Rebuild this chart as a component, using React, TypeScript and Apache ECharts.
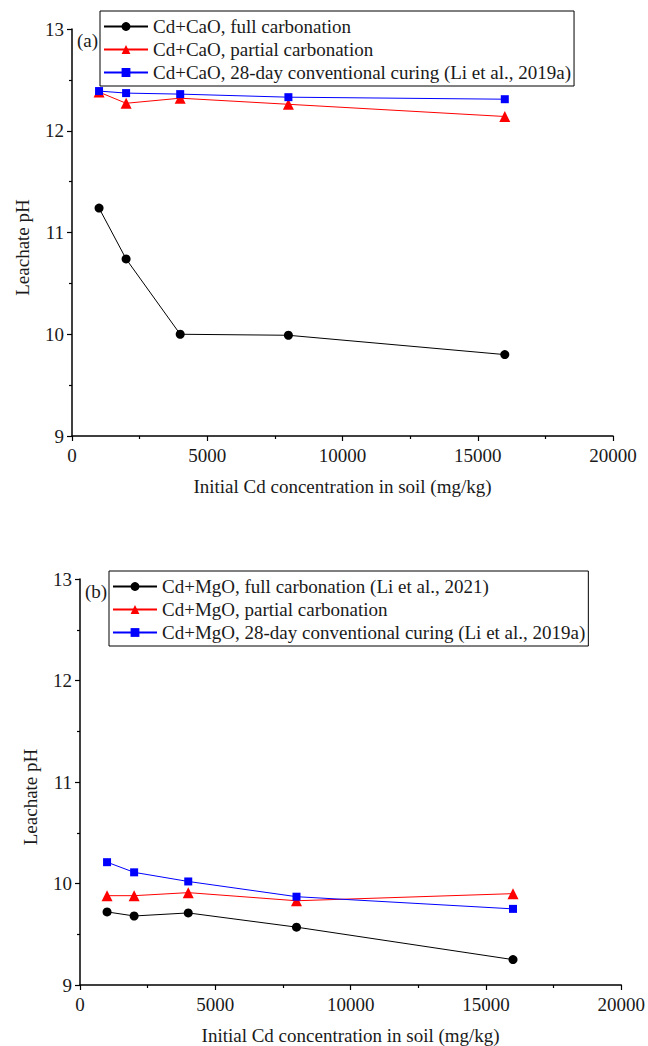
import React, { useEffect, useRef } from "react";
import * as echarts from "echarts";

const concentrations = [1000, 2000, 4000, 8000, 16000];
const caoFull = [11.24, 10.74, 10.0, 9.99, 9.8];
const caoPartial = [12.38, 12.27, 12.32, 12.26, 12.14];
const caoConventional = [12.39, 12.37, 12.36, 12.33, 12.31];
const mgoFull = [9.72, 9.68, 9.71, 9.57, 9.25];
const mgoPartial = [9.88, 9.88, 9.91, 9.83, 9.9];
const mgoConventional = [10.21, 10.11, 10.02, 9.87, 9.75];

const namesA = [
  "Cd+CaO, full carbonation",
  "Cd+CaO, partial carbonation",
  "Cd+CaO, 28-day conventional curing (Li et al., 2019a)",
];
const namesB = [
  "Cd+MgO, full carbonation (Li et al., 2021)",
  "Cd+MgO, partial carbonation",
  "Cd+MgO, 28-day conventional curing (Li et al., 2019a)",
];
const panelLabels = ["(a)", "(b)"];
const xTitle = "Initial Cd concentration in soil (mg/kg)";
const yTitle = "Leachate pH";

const FONT = "Liberation Serif";
const TXT = "#1a1a1a";

function pairs(ys: number[]) {
  return concentrations.map((x, i) => [x, ys[i]]);
}

export default function App() {
  const ref = useRef<HTMLDivElement>(null);
  useEffect(() => {
    if (!ref.current) return;
    const chart = echarts.init(ref.current, null, { renderer: "svg" });
    const axisCommon = {
      axisLine: { show: true, onZero: false, lineStyle: { color: "#000", width: 1.5 } },
      axisTick: { show: true, inside: false, length: 5, lineStyle: { color: "#000", width: 1.2 } },
      minorTick: { show: true, splitNumber: 2, length: 3, lineStyle: { color: "#000", width: 1.2 } },
      splitLine: { show: false },
      minorSplitLine: { show: false },
      axisLabel: { color: TXT, fontFamily: FONT, fontSize: 19 },
      nameTextStyle: { color: TXT, fontFamily: FONT, fontSize: 19 },
    };
    const xAxis = (gi: number) => ({
      ...axisCommon,
      gridIndex: gi,
      type: "value",
      min: 0,
      max: 20000,
      interval: 5000,
      name: xTitle,
      nameLocation: "middle",
      nameGap: 41,
      axisLabel: { ...axisCommon.axisLabel, margin: 10, formatter: (v: number) => String(v) },
    });
    const yAxis = (gi: number) => ({
      ...axisCommon,
      gridIndex: gi,
      type: "value",
      min: 9,
      max: 13,
      interval: 1,
      name: yTitle,
      nameLocation: "middle",
      nameGap: 40,
      nameTextStyle: { ...axisCommon.nameTextStyle, padding: [0, 30, 0, 0] },
      axisLabel: { ...axisCommon.axisLabel, margin: 8 },
    });
    const mk = (name: string, data: number[], gi: number, color: string, symbol: string, size: number) => ({
      name,
      type: "line",
      xAxisIndex: gi,
      yAxisIndex: gi,
      data: pairs(data),
      symbol,
      symbolSize: size,
      lineStyle: { color, width: 1 },
      itemStyle: { color },
      emphasis: { disabled: true },
    });
    const legend = (left: number, top: number, data: string[]) => ({
      left,
      top,
      orient: "vertical",
      data,
      itemWidth: 44,
      itemHeight: 11,
      itemGap: 4,
      padding: [6, 3, 4, 3],
      borderColor: "#000",
      borderWidth: 1,
      backgroundColor: "#fff",
      textStyle: { color: TXT, fontFamily: FONT, fontSize: 19 },
      selectedMode: false,
    });
    chart.setOption({
      animation: false,
      backgroundColor: "#fff",
      grid: [
        { left: 72, top: 29, right: 35, bottom: 610 },
        { left: 80, top: 579, right: 26, bottom: 60 },
      ],
      xAxis: [xAxis(0), xAxis(1)],
      yAxis: [yAxis(0), yAxis(1)],
      legend: [legend(100, 11, namesA), legend(109, 571, namesB)],
      graphic: [
        { type: "text", left: 77, top: 31, style: { text: panelLabels[0], font: `19px "${FONT}"`, fill: TXT } },
        { type: "text", left: 85, top: 582, style: { text: panelLabels[1], font: `19px "${FONT}"`, fill: TXT } },
      ],
      series: [
        mk(namesA[0], caoFull, 0, "#000000", "circle", 9),
        mk(namesA[1], caoPartial, 0, "#ff0000", "triangle", 11),
        mk(namesA[2], caoConventional, 0, "#0000ff", "rect", 8),
        mk(namesB[0], mgoFull, 1, "#000000", "circle", 9),
        mk(namesB[1], mgoPartial, 1, "#ff0000", "triangle", 11),
        mk(namesB[2], mgoConventional, 1, "#0000ff", "rect", 8),
      ],
    });
    return () => chart.dispose();
  }, []);
  return (
    <div
      ref={ref}
      style={{ position: "absolute", left: 0, top: 0, width: 648, height: 1046 }}
    />
  );
}
